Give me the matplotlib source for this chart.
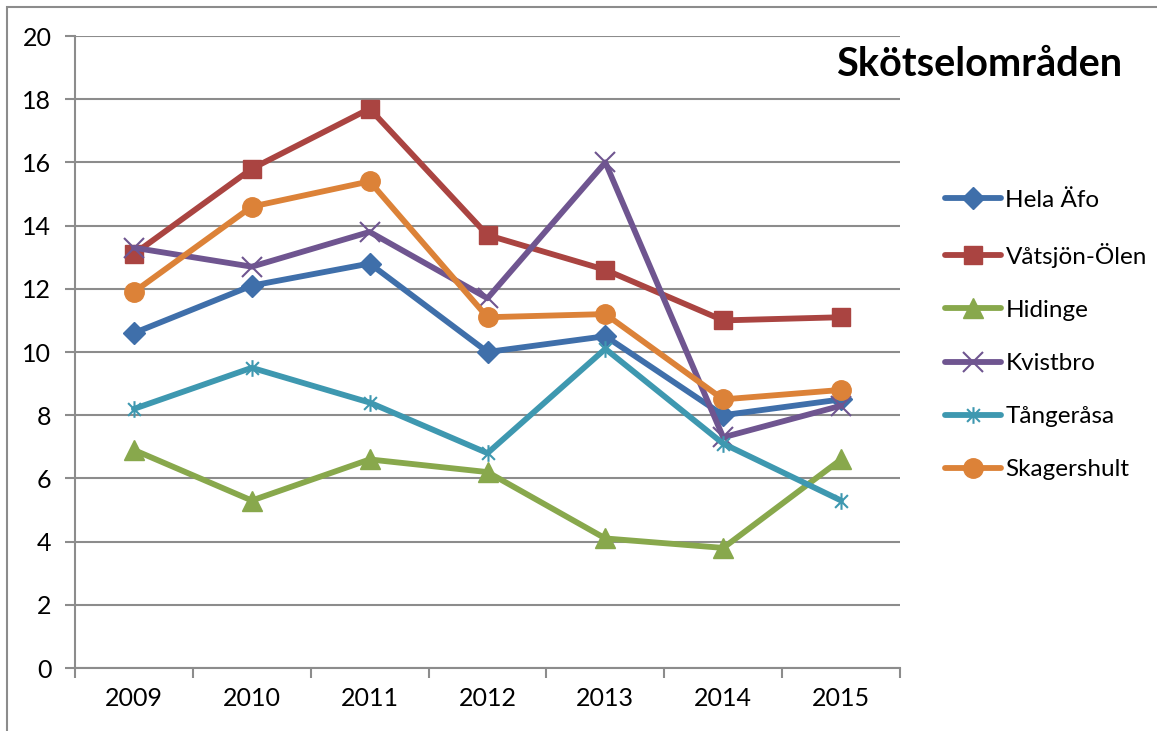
import matplotlib
matplotlib.use("Agg")
import matplotlib.pyplot as plt
from matplotlib.path import Path
from matplotlib.patches import Rectangle

# data
years = ["2009", "2010", "2011", "2012", "2013", "2014", "2015"]
hela_afo = [10.6, 12.1, 12.8, 10.0, 10.5, 8.0, 8.5]
vatsjon_olen = [13.1, 15.8, 17.7, 13.7, 12.6, 11.0, 11.1]
hidinge = [6.9, 5.3, 6.6, 6.2, 4.1, 3.8, 6.6]
kvistbro = [13.3, 12.7, 13.8, 11.7, 16.0, 7.3, 8.3]
tangerasa = [8.2, 9.5, 8.4, 6.8, 10.1, 7.1, 5.3]
skagershult = [11.9, 14.6, 15.4, 11.1, 11.2, 8.5, 8.8]
y_ticks = [0, 2, 4, 6, 8, 10, 12, 14, 16, 18, 20]

plt.rcParams['font.family'] = ['Lato', 'DejaVu Sans']

# Excel style star marker (x with a vertical bar)
star = Path([(-1, -1), (1, 1), (-1, 1), (1, -1), (0, -1.3), (0, 1.3)],
            [Path.MOVETO, Path.LINETO, Path.MOVETO, Path.LINETO, Path.MOVETO, Path.LINETO])

series = [
    ("Hela Äfo", hela_afo, "#3F6FAA", "D", 11),
    ("Våtsjön-Ölen", vatsjon_olen, "#AA4441", "s", 13),
    ("Hidinge", hidinge, "#88A84C", "^", 14),
    ("Kvistbro", kvistbro, "#6F5590", "x", 14),
    ("Tångeråsa", tangerasa, "#3E98B0", star, 12),
    ("Skagershult", skagershult, "#DC8238", "o", 14),
]

fig = plt.figure(figsize=(11.57, 7.31), dpi=100)
ax = fig.add_axes([75 / 1157, 1 - 668 / 731, 825 / 1157, 632 / 731])

x = list(range(len(years)))
for name, vals, color, marker, ms in series:
    if marker in ("x",) or isinstance(marker, Path):
        ax.plot(x, vals, color=color, lw=4.2, marker=marker, ms=ms,
                mec=color, mew=1.5, mfc="none", label=name, solid_capstyle="round")
    else:
        ax.plot(x, vals, color=color, lw=4.2, marker=marker, ms=ms,
                mec=color, mfc=color, label=name, solid_capstyle="round")

ax.set_xlim(-0.5, len(years) - 0.5)
ax.set_ylim(0, 20)
ax.set_yticks(y_ticks)
ax.set_xticks(x)
ax.set_xticklabels(years)
ax.set_xticks([i - 0.5 for i in range(len(years) + 1)], minor=True)
ax.grid(axis="y", color="#8C8C8C", lw=1.5)
ax.set_axisbelow(True)
for side in ["top", "right"]:
    ax.spines[side].set_visible(False)
for side in ["left", "bottom"]:
    ax.spines[side].set_color("#8C8C8C")
    ax.spines[side].set_linewidth(1.5)
ax.tick_params(axis="y", which="major", length=7, width=1.5, color="#8C8C8C",
               labelsize=18, pad=10)
ax.tick_params(axis="x", which="major", length=0, labelsize=18, pad=14)
ax.tick_params(axis="x", which="minor", length=7, width=1.5, color="#8C8C8C")

fig.text(979 / 1157, 1 - 65 / 731, "Skötselområden", fontsize=28.5, fontweight="bold",
         ha="center", va="center")

ax.legend(loc="upper left", bbox_to_anchor=(935 / 1157, 1 - 180 / 731),
          bbox_transform=fig.transFigure, frameon=False, fontsize=17.5,
          handlelength=2.3, handletextpad=0.2, labelspacing=1.32, borderaxespad=0)

# outer chart border (top and left visible)
fig.patches.append(Rectangle((7 / 1157, -0.1), 1.2, 1 - 7 / 731 + 0.1,
                             transform=fig.transFigure, fill=False,
                             edgecolor="#8C8C8C", lw=1.5))

fig.savefig("out.png", dpi=100)
